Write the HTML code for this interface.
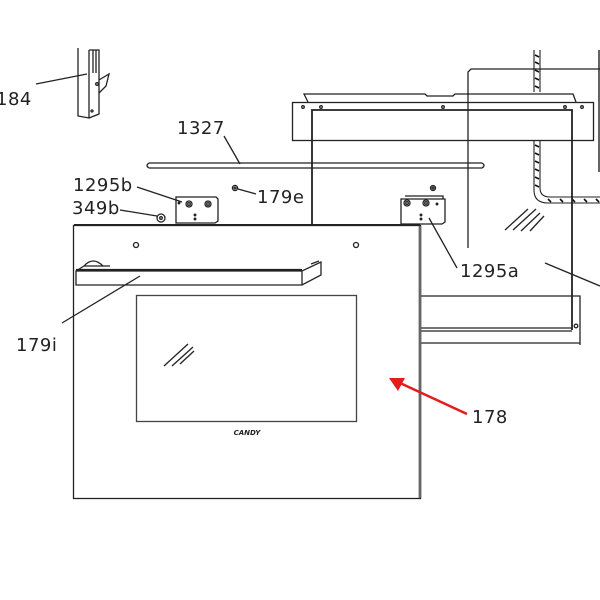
<!DOCTYPE html>
<html><head><meta charset="utf-8"><style>
html,body{margin:0;padding:0;background:#fff;width:600px;height:600px;overflow:hidden}
svg{display:block}
text{font-family:"DejaVu Sans","Liberation Sans",sans-serif;fill:#222}
</style></head><body>
<svg width="600" height="600" viewBox="0 0 600 600" xmlns="http://www.w3.org/2000/svg" fill="none" stroke="#222" stroke-width="1.3">
<path d="M468,248 V72 L471,69 H600"/>
<path d="M599,50 V172" stroke-width="1.4"/>
<g stroke-width="1.1">
<path d="M534,50 V92 M540,50 V92"/>
<path d="M534,140 V190 Q534,203 548,203 H600 M540,140 V188 Q540,197 550,197 H600"/>
</g>
<g stroke="#111" stroke-width="1.6">
<path d="M535,55 l4,2 M535,62 l4,2 M535,70 l4,2 M535,78 l4,2 M535,86 l4,2 M535,145 l4,2 M535,153 l4,2 M535,161 l4,2 M535,169 l4,2 M535,177 l4,2 M535,185 l4,2 M548,199 l3,3 M560,199 l3,3 M572,199 l3,3 M584,199 l3,3 M596,199 l3,3"/>
</g>
<path d="M505,230 L528,209 M513,230 L536,209 M521,231 L540,213 M530,231 L544,216"/>
<path d="M308,102 L304,94 H425 L427,96 H453 L455,94 H573 L576,102"/>
<rect x="292.5" y="102.5" width="301" height="38"/>
<circle cx="303" cy="107" r="1.3"/><circle cx="321" cy="107" r="1.3"/><circle cx="443" cy="107" r="1.3"/><circle cx="565" cy="107" r="1.3"/><circle cx="582" cy="107" r="1.3"/>
<path d="M312,225 V110 H572 V330" stroke-width="1.8"/>
<path d="M421,296 H580 V345 M421,331 H572 M421,343 H580"/>
<path d="M421,328 H572"/>
<circle cx="576" cy="326" r="1.8"/>
<path d="M545,263 L600,286"/>
<path d="M149,163 H482 M149,168 H482 M149,163 Q145,165.5 149,168 M482,163 Q486,165.5 482,168" stroke-width="1.3"/>
<path d="M224,136 L240,164"/>
<path d="M176,197 H216 L218,199 V221 L215,223 H176 Z"/>
<circle cx="189" cy="204" r="3"/><circle cx="189" cy="204" r="1.3"/>
<circle cx="208" cy="204" r="3"/><circle cx="208" cy="204" r="1.3"/>
<circle cx="179" cy="203" r="0.8"/><circle cx="195" cy="215" r="0.8"/><circle cx="195" cy="219" r="0.8"/>
<path d="M137,187 L182,202"/>
<circle cx="235" cy="188" r="2.6"/><circle cx="235" cy="188" r="1"/>
<path d="M238,189 L256,194"/>
<circle cx="161" cy="218" r="4"/><circle cx="161" cy="218" r="1.3"/>
<path d="M120,210 L157,216"/>
<path d="M401,199 H445 V222 L442,224 H401 Z M405,196 H443 V199"/>
<circle cx="407" cy="203" r="3"/><circle cx="407" cy="203" r="1.3"/>
<circle cx="426" cy="203" r="3"/><circle cx="426" cy="203" r="1.3"/>
<circle cx="433" cy="188" r="2.5"/><circle cx="433" cy="188" r="1"/>
<circle cx="437" cy="204" r="0.8"/><circle cx="421" cy="215" r="0.8"/><circle cx="421" cy="219" r="0.8"/>
<path d="M429,218 L457,268"/>
<path d="M78,48 V116 L89,118 V50 M89,50 H99 V114 L89,118"/>
<path d="M93,50 V73 M96,50 V73"/>
<path d="M99,80 L109,74 L106,86 L99,93"/>
<circle cx="97" cy="84" r="1.3"/><circle cx="92" cy="111" r="1"/>
<path d="M36,84 L87,74"/>
<rect x="73.5" y="225.5" width="347" height="273" fill="#fff" stroke-width="1.3"/>
<path d="M420,226 V498" stroke="#666" stroke-width="2.8"/>
<path d="M74,225 H420" stroke-width="2"/>
<circle cx="136" cy="245" r="2.5"/><circle cx="356" cy="245" r="2.5"/>
<path d="M76,271 H302 L321,262 V275 L302,285 H76 Z M76,271 L84,266 M302,271 V285 M311,264 L319,261 M84,266 Q93,256 103,266 M84,266 H110"/>
<path d="M76,270 H302" stroke-width="2.2"/>
<path d="M140,276 L62,323"/>
<rect x="136.5" y="295.5" width="220" height="126" stroke="#444"/>
<path d="M164,366 L188,344 M172,366 L193,347 M180,364 L194,351"/>
<text x="247" y="435" font-size="7" font-style="italic" font-weight="bold" text-anchor="middle" font-family="Liberation Serif,serif" stroke="none">CANDY</text>
<path d="M467,414 L400,383" stroke="#e21d1d" stroke-width="2.5"/>
<path d="M389,378 L405,378 L398,391 Z" fill="#e21d1d" stroke="none"/>
<g stroke="none" font-size="18" letter-spacing="0.5">
<text x="-4" y="105">184</text>
<text x="177" y="134">1327</text>
<text x="73" y="191">1295b</text>
<text x="72" y="214">349b</text>
<text x="257" y="203">179e</text>
<text x="460" y="277">1295a</text>
<text x="16" y="351">179i</text>
<text x="472" y="423">178</text>
</g>
</svg>
</body></html>
